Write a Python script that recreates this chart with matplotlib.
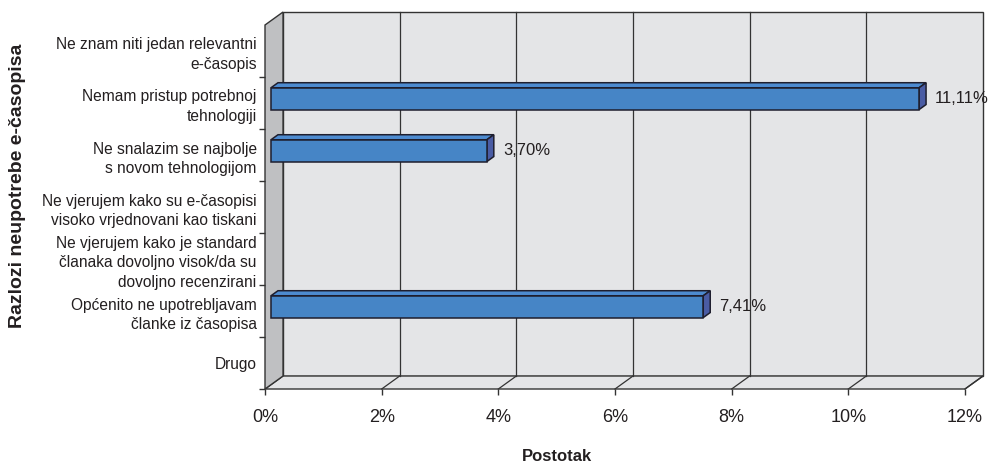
import matplotlib
matplotlib.use("Agg")
import matplotlib.pyplot as plt
from matplotlib.patches import Polygon
import numpy as np

plt.rcParams['font.family'] = ['Liberation Sans', 'DejaVu Sans']

categories = [
    "Ne znam niti jedan relevantni\ne-časopis",
    "Nemam pristup potrebnoj\ntehnologiji",
    "Ne snalazim se najbolje\ns novom tehnologijom",
    "Ne vjerujem kako su e-časopisi\nvisoko vrjednovani kao tiskani",
    "Ne vjerujem kako je standard\nčlanaka dovoljno visok/da su\ndovoljno recenzirani",
    "Općenito ne upotrebljavam\nčlanke iz časopisa",
    "Drugo",
]
values = [0.0, 11.11, 3.70, 0.0, 0.0, 7.41, 0.0]
value_labels = ["", "11,11%", "3,70%", "", "", "7,41%", ""]
xticks = [0, 2, 4, 6, 8, 10, 12]
xtick_labels = ["0%", "2%", "4%", "6%", "8%", "10%", "12%"]
ylabel = "Razlozi neupotrebe e-časopisa"
xlabel = "Postotak"

W, H = 992, 465
fig = plt.figure(figsize=(W / 100, H / 100), dpi=100)
ax = fig.add_axes([265 / W, (H - 389) / H, 700 / W, 364 / H])
n = len(categories)
ax.set_xlim(0, 12)
ax.set_ylim(n, 0)
for s in ax.spines.values():
    s.set_visible(False)
ax.patch.set_visible(False)

# depth of the 3D box in data units
DX = 0.309
DY = 0.25
EDGE = "#333333"
WALL = "#e4e5e7"
SIDE = "#bfc0c2"

xmax = 12
# back wall
ax.add_patch(Polygon([(DX, -DY), (xmax + DX, -DY), (xmax + DX, n - DY), (DX, n - DY)],
                     closed=True, fc=WALL, ec=EDGE, lw=1.0, clip_on=False, zorder=1))
# floor
ax.add_patch(Polygon([(0, n), (xmax, n), (xmax + DX, n - DY), (DX, n - DY)],
                     closed=True, fc=WALL, ec=EDGE, lw=1.0, clip_on=False, zorder=1))
# left wall
ax.add_patch(Polygon([(0, 0), (0, n), (DX, n - DY), (DX, -DY)],
                     closed=True, fc=SIDE, ec=EDGE, lw=1.0, clip_on=False, zorder=1))
# gridlines on back wall and floor
for xt in xticks[1:-1]:
    ax.plot([xt + DX, xt + DX], [-DY, n - DY], color=EDGE, lw=0.9, clip_on=False, zorder=2)
for xt in xticks[1:]:
    ax.plot([xt, xt + DX], [n, n - DY], color=EDGE, lw=0.9, clip_on=False, zorder=2)

# bars
F0, F1 = 0.333, 0.72
BH = 0.21
FRONT = "#4685c6"
TOP = "#4d8bd0"
RIGHT = "#4a5ca4"
BEDGE = "#1e1e2e"
for i, v in enumerate(values):
    if v <= 0:
        continue
    yc = i + 0.5 - F0 * DY
    x0 = F0 * DX
    yt, yb = yc - BH, yc + BH
    ddx = (F1 - F0) * DX
    ddy = (F1 - F0) * DY
    ax.add_patch(Polygon([(x0, yt), (x0 + v, yt), (x0 + v + ddx, yt - ddy), (x0 + ddx, yt - ddy)],
                         closed=True, fc=TOP, ec=BEDGE, lw=1.1, clip_on=False, zorder=3))
    ax.add_patch(Polygon([(x0 + v, yt), (x0 + v, yb), (x0 + v + ddx, yb - ddy), (x0 + v + ddx, yt - ddy)],
                         closed=True, fc=RIGHT, ec=BEDGE, lw=1.1, clip_on=False, zorder=3))
    ax.add_patch(Polygon([(x0, yt), (x0 + v, yt), (x0 + v, yb), (x0, yb)],
                         closed=True, fc=FRONT, ec=BEDGE, lw=1.1, clip_on=False, zorder=4))
    ax.annotate(value_labels[i], xy=(x0 + v + ddx, yc), xytext=(6.5, 0),
                textcoords="offset points", ha="left", va="center",
                fontsize=12, color="#231f20", annotation_clip=False)

# ticks
ax.set_xticks(xticks)
ax.set_xticklabels(xtick_labels, fontsize=13, color="#231f20")
ax.tick_params(axis="x", direction="out", length=4.5, width=1, color=EDGE, pad=10)
ax.set_yticks(np.arange(1, n + 1))
ax.set_yticklabels([])
ax.tick_params(axis="y", which="major", direction="out", length=4.5, width=1, color=EDGE)
ax.set_yticks(np.arange(n) + 0.5, minor=True)
ax.set_yticklabels(categories, minor=True, fontsize=11.2, color="#231f20")
ax.tick_params(axis="y", which="minor", length=0, pad=6)
for lab in ax.get_yticklabels(minor=True):
    lab.set_linespacing(1.4)

fig.text(18 / W, 1 - 186 / H, ylabel, rotation=90, ha="center", va="center",
         fontsize=14, fontweight="bold", color="#231f20")
fig.text(557 / W, 1 - 456 / H, xlabel, ha="center", va="center",
         fontsize=12, fontweight="bold", color="#231f20")

fig.savefig("out.png", dpi=100)
